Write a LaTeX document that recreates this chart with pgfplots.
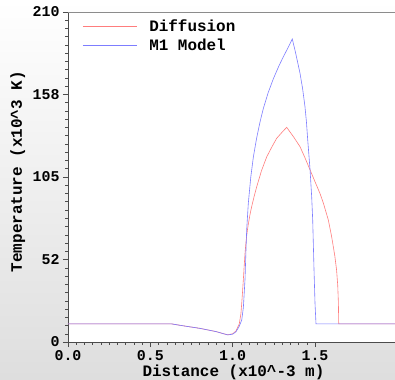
\documentclass[border=0pt]{standalone}
\usepackage{pgfplots}
\pgfplotsset{compat=1.18}
\usepackage{fontspec}
\setmainfont{Liberation Mono}[BoldFont={Liberation Mono Bold}]
\definecolor{dred}{RGB}{255,125,125}
\definecolor{mblue}{RGB}{125,125,255}
\pgfplotstableread{
x T
0.000 11.5
0.630 11.5
0.700 10.3
0.800 8.7
0.900 6.6
0.940 5.4
0.970 4.6
1.000 5.2
1.020 7.0
1.040 11.5
1.050 18.0
1.055 24.6
1.060 32.0
1.065 40.0
1.070 48.5
1.075 56.4
1.080 62.5
1.085 67.5
1.090 71.5
1.095 75.0
1.105 81.0
1.115 86.0
1.130 92.5
1.146 98.8
1.175 109.0
1.207 117.9
1.240 124.5
1.267 129.6
1.300 133.5
1.328 136.6
1.370 130.5
1.409 124.3
1.440 117.0
1.470 109.5
1.500 102.0
1.530 94.6
1.551 88.3
1.581 77.6
1.601 67.0
1.620 55.0
1.631 45.8
1.638 36.0
1.642 25.0
1.644 11.5
1.990 11.5
}\diffusion
\pgfplotstableread{
x T
0.000 11.5
0.630 11.5
0.700 10.3
0.800 8.7
0.900 6.6
0.940 5.4
0.970 4.5
1.000 5.0
1.020 6.5
1.040 10.0
1.055 14.0
1.065 22.0
1.075 40.0
1.080 56.0
1.085 71.3
1.095 88.3
1.110 105.0
1.126 118.0
1.146 130.0
1.166 140.0
1.186 148.5
1.215 158.5
1.247 167.5
1.280 175.5
1.308 181.6
1.335 187.0
1.362 192.8
1.380 185.0
1.409 171.0
1.425 161.0
1.439 149.8
1.448 140.0
1.455 129.6
1.470 109.5
1.480 92.0
1.486 77.6
1.494 45.8
1.500 24.6
1.506 11.5
1.990 11.5
}\mone
\begin{document}
\begin{tikzpicture}
\shade[top color=white, bottom color=black!13] (-68bp,-38bp) rectangle (327bp,342bp);
\begin{axis}[
  at={(0,0)}, anchor=south west,
  scale only axis, width=327.7bp, height=330bp,
  xmin=0, xmax=1.99, ymin=0, ymax=210,
  axis lines=left, axis line style={black!70, -, line width=0.6bp},
  axis background/.style={fill=white},
  xtick={0,0.5,1,1.5}, xticklabels={0.0,0.5,1.0,1.5},
  ytick={0,52.5,105,157.5,210}, yticklabels={0,52,105,158,210},
  minor tick num=9,
  tick align=outside, major tick length=5bp, minor tick length=2.5bp,
  tick style={black!70, line width=0.5bp},
  ticklabel style={font=\fontsize{15}{15}\selectfont\bfseries},
  /pgf/number format/assume math mode=true,
  xlabel={Distance (x10\textasciicircum-3 m)},
  ylabel={Temperature (x10\textasciicircum3 K)},
  label style={font=\fontsize{16}{16}\selectfont\bfseries},
  xlabel style={at={(axis description cs:0.505,0)}, anchor=base, yshift=-34bp},
  ylabel style={at={(axis description cs:0,0.516)}, anchor=base, yshift=46bp},
  legend style={draw=none, fill=none, at={(axis description cs:0.035,0.99)}, anchor=north west,
    font=\fontsize{16}{16}\selectfont\bfseries, row sep=2bp},
  legend cell align=left,
  legend image code/.code={\draw[#1] (0bp,0bp) -- (54bp,0bp); \path (64bp,0bp);},
  clip=false,
]
\addplot[dred, line width=0.6bp] table[x=x, y=T] {\diffusion};
\addplot[mblue, line width=0.6bp] table[x=x, y=T] {\mone};
\legend{Diffusion, M1 Model}
\draw[black!45, line width=0.6bp] (rel axis cs:0,1) -- (rel axis cs:1,1);
\end{axis}
\pgfresetboundingbox
\useasboundingbox (-68bp,-38bp) rectangle (327bp,342bp);
\end{tikzpicture}
\end{document}
